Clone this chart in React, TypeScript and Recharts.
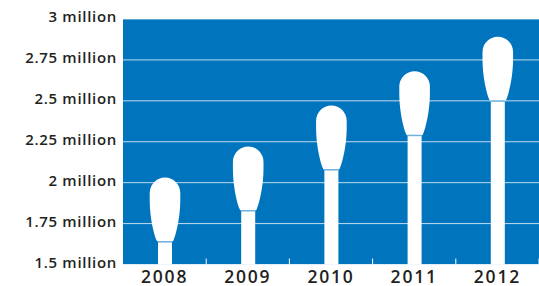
import { BarChart, Bar, XAxis, YAxis, CartesianGrid } from "recharts"

const years = ["2008", "2009", "2010", "2011", "2012"]
const subscribers = [1.64, 1.83, 2.08, 2.29, 2.5]
const yTicks = [1.5, 1.75, 2, 2.25, 2.5, 2.75, 3]

const data = years.map((year, i) => ({ year, value: subscribers[i] }))

const BLUE = "#0075BE"
const INK = "#231F20"
const FONT = "'Open Sans', sans-serif"

function Matchstick(props: any) {
  const { x, y, width, background } = props
  const bottom = background ? background.y + background.height : y + props.height
  const cx = x + width / 2
  const top = y - 64
  const tw = 15.3
  const bw = 8.6
  const head = [
    `M ${cx - tw} ${top + 15.5}`,
    `A ${tw} 15.5 0 0 1 ${cx + tw} ${top + 15.5}`,
    `L ${cx + tw} ${top + 22}`,
    `C ${cx + tw} ${top + 40} ${cx + 11} ${top + 57} ${cx + bw} ${y - 1.5}`,
    `Q ${cx + bw - 0.4} ${y} ${cx + bw - 1.8} ${y}`,
    `L ${cx - bw + 1.8} ${y}`,
    `Q ${cx - bw + 0.4} ${y} ${cx - bw} ${y - 1.5}`,
    `C ${cx - 11} ${top + 57} ${cx - tw} ${top + 40} ${cx - tw} ${top + 22}`,
    "Z",
  ].join(" ")
  return (
    <g>
      <rect x={x} y={y} width={width} height={bottom - y} fill="#ffffff" />
      <path d={head} fill="#ffffff" />
      <rect x={x} y={y - 0.5} width={width} height={1.5} fill="#6fb0dd" />
    </g>
  )
}

function YTick(props: any) {
  const { x, y, payload } = props
  return (
    <text x={x} y={y} dy={3} textAnchor="end" fontFamily={FONT} fontSize={15} fontWeight={600} letterSpacing={0.7} fill={INK}>
      {`${payload.value} million`}
    </text>
  )
}

function XTick(props: any) {
  const { x, y, payload } = props
  const half = 83.2 / 2
  return (
    <g>
      <line x1={x + half} x2={x + half} y1={y - 6} y2={y} stroke="#ffffff" strokeWidth={1} />
      <text x={x} y={y + 18} textAnchor="middle" fontFamily={FONT} fontSize={17.5} fontWeight={600} letterSpacing={1.8} fill={INK}>
        {payload.value}
      </text>
    </g>
  )
}

export default function App() {
  return (
    <div style={{ position: "absolute", left: 0, top: 0, background: "#ffffff", width: 539, height: 286 }}>
      <BarChart width={539} height={286} data={data} margin={{ top: 19, right: 0, bottom: 0, left: 0 }} barCategoryGap={0}>
        <CartesianGrid vertical={false} fill={BLUE} stroke="#ffffff" strokeOpacity={0.75} />
        <YAxis
          type="number"
          domain={[1.5, 3]}
          ticks={yTicks}
          width={123}
          axisLine={false}
          tickLine={false}
          tickSize={6}
          tickMargin={0}
          tick={<YTick />}
          interval={0}
        />
        <XAxis
          dataKey="year"
          height={21.5}
          axisLine={false}
          tickLine={false}
          tickSize={0}
          tickMargin={0}
          tick={<XTick />}
          interval={0}
        />
        <Bar dataKey="value" barSize={14} shape={<Matchstick />} isAnimationActive={false} />
      </BarChart>
    </div>
  )
}
